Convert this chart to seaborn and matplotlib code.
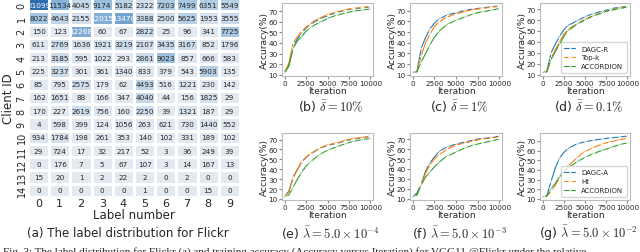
import numpy as np
import pandas as pd
import seaborn as sns
import matplotlib.pyplot as plt
from matplotlib.colors import LinearSegmentedColormap

# label distribution (client x label)
labels = list(range(10))
clients = list(range(15))
label_counts = [
    [21099, 11534, 4045, 9174, 5182, 2322, 7203, 7499, 6351, 5549],
    [8022, 4643, 2155, 12015, 13470, 3388, 2500, 5625, 1953, 3555],
    [150, 123, 12268, 60, 67, 2822, 25, 96, 341, 7725],
    [611, 2769, 1636, 1921, 3219, 2107, 3435, 3167, 852, 1796],
    [213, 3185, 595, 1022, 293, 2861, 9023, 857, 666, 583],
    [225, 3237, 301, 361, 1340, 833, 379, 543, 5903, 135],
    [85, 795, 2575, 179, 62, 4493, 516, 1221, 230, 142],
    [162, 1651, 88, 166, 347, 4040, 44, 156, 1825, 29],
    [170, 227, 2619, 756, 160, 2250, 39, 1321, 187, 29],
    [4, 598, 399, 124, 1056, 263, 621, 730, 1440, 552],
    [934, 1784, 198, 261, 353, 140, 102, 331, 189, 102],
    [29, 724, 17, 32, 217, 52, 3, 36, 249, 39],
    [0, 176, 7, 5, 67, 107, 3, 14, 167, 13],
    [15, 20, 1, 2, 22, 2, 0, 2, 0, 0],
    [0, 0, 0, 0, 0, 1, 0, 0, 15, 0],
]

# accuracy curves, sampled every 500 iterations
iterations = list(range(0, 10001, 500))

b_dagc = [12, 19, 37, 44, 49, 54, 57, 60, 62, 64, 65.5, 67, 68.5, 69.5, 70.5, 71.5, 72, 72.5, 73, 73.5, 74]
b_topk = [12, 21, 40, 46, 51, 55, 58, 61, 63, 65, 66.5, 68, 69, 70, 71, 72, 72.5, 73, 73.5, 74, 74.5]
b_acc = [12, 18, 35, 42, 46, 51, 54, 57, 59, 61, 63, 64.5, 66, 67, 68, 69, 70, 70.5, 71, 71.5, 72]

c_dagc = [12, 13, 35, 45, 53, 58, 62, 64, 66, 67, 68, 69, 70, 71, 71.5, 72, 72.5, 73, 73.5, 74, 74]
c_topk = [12, 13, 28, 40, 48, 55, 59, 62, 64, 65.5, 67, 68, 69, 70, 71, 71.5, 72, 72.5, 73, 73.5, 74]
c_acc = [12, 13, 22, 30, 38, 45, 50, 54, 57, 59, 61, 62.5, 64, 65.5, 67, 68, 69, 69.5, 70.5, 71, 72]

d_dagc = [12, 13, 30, 38, 45, 51, 55, 57, 59, 61, 63, 64.5, 66, 67, 68, 69, 70, 71, 71.5, 72, 72.5]
d_topk = [12, 13, 25, 33, 40, 47, 51, 54, 56, 58.5, 61, 62.5, 64, 65.5, 67, 68, 69, 70, 71, 71.5, 72]
d_acc = [12, 13, 24, 31, 38, 45, 50, 53, 56, 58, 60, 62, 64, 65, 66.5, 68, 69, 69.5, 70.5, 71, 72]

e_dagc = [12, 18, 32, 40, 47, 52, 55, 58, 61, 62.5, 64, 65, 66, 67, 68.5, 69.5, 70.5, 71, 72, 72.5, 73]
e_topk = [12, 17, 31, 40, 48, 52, 56, 58, 61, 63, 64.5, 65.5, 66.5, 67.5, 69, 70, 71, 71.5, 72, 72.5, 73.5]
e_acc = [12, 14, 22, 30, 37, 43, 47, 51, 54, 57, 59, 61, 62.5, 64, 65.5, 67, 68, 69, 70, 70.5, 71]

f_dagc = [12, 16, 25, 38, 46, 52, 57, 60, 62, 63.5, 65, 66, 67, 68, 69, 70, 70.5, 71, 71.5, 72, 73]
f_topk = [12, 14, 25, 36, 44, 50, 54, 57, 60, 62, 64, 65, 66, 67, 68, 69, 70, 70.5, 71, 71.5, 72]
f_acc = [12, 14, 24, 32, 37, 42, 46, 50, 53, 55, 57, 59, 61, 62.5, 64, 65, 66, 67, 68, 69, 70]

g_dagc = [12, 13, 28, 42, 52, 58, 62, 64.5, 66.5, 68, 69, 70, 70.5, 71.5, 72, 72.5, 73, 73.5, 74, 74.5, 75]
g_ht = [12, 13, 18, 24, 32, 38, 44, 48, 52, 56, 59, 61, 63, 65, 66.5, 68, 69, 70, 71, 72, 73]
g_acc = [12, 13, 20, 26, 33, 38, 42, 45, 48, 50.5, 53, 55, 57, 58.5, 60, 61.5, 63, 64.5, 66, 67, 68]

panels = [
    (r"(b) $\bar{\delta}=10\%$", ["DAGC-R", "Top-k", "ACCORDION"], [b_dagc, b_topk, b_acc], False),
    (r"(c) $\bar{\delta}=1\%$", ["DAGC-R", "Top-k", "ACCORDION"], [c_dagc, c_topk, c_acc], False),
    (r"(d) $\bar{\delta}=0.1\%$", ["DAGC-R", "Top-k", "ACCORDION"], [d_dagc, d_topk, d_acc], True),
    (r"(e) $\bar{\lambda}=5.0\times10^{-4}$", ["DAGC-A", "Ht", "ACCORDION"], [e_dagc, e_topk, e_acc], False),
    (r"(f) $\bar{\lambda}=5.0\times10^{-3}$", ["DAGC-A", "Ht", "ACCORDION"], [f_dagc, f_topk, f_acc], False),
    (r"(g) $\bar{\lambda}=5.0\times10^{-2}$", ["DAGC-A", "Ht", "ACCORDION"], [g_dagc, g_ht, g_acc], True),
]

sns.set_style("ticks", {"axes.edgecolor": "#bbbbbb"})
plt.rcParams["font.family"] = ["DejaVu Sans"]
plt.rcParams["mathtext.fontset"] = "cm"

fig = plt.figure(figsize=(6.4, 2.53), dpi=100)
W, H = 640, 253


def px_axes(x0, y0, x1, y1):
    return fig.add_axes([x0 / W, 1 - y1 / H, (x1 - x0) / W, (y1 - y0) / H])


# heatmap
ax = px_axes(28, -1, 240, 198)
df = pd.DataFrame(label_counts, index=clients, columns=labels)
cmap = LinearSegmentedColormap.from_list("bl", ["#e4e9f0", "#8fbade", "#2e6cae"])
sns.heatmap(df, ax=ax, cmap=cmap, annot=True, fmt="d", cbar=False,
            linewidths=1, linecolor="white", xticklabels=True, yticklabels=True,
            annot_kws={"fontsize": 5.2})
ax.tick_params(axis="x", length=0, labelsize=8, pad=1)
ax.tick_params(axis="y", length=0, labelsize=7, pad=1)
ax.set_yticklabels(clients, rotation=90, va="center")
ax.set_xlabel("Label number", fontsize=8.5, labelpad=0)
ax.set_ylabel("Client ID", fontsize=8.5, labelpad=1)
fig.text(128 / W, 1 - 234 / H, "(a) The label distribution for Flickr",
         ha="center", va="center", fontsize=8.5)

colors = ["#1f77b4", "#ff7f0e", "#2ca02c"]
markers = ["x", "+", "x"]
cols = [(282, 373), (410, 502), (540, 630)]
rows = [(4, 77), (134, 201)]
cap_y = [106, 233]

for i, (cap, names, series, show_leg) in enumerate(panels):
    r, c = divmod(i, 3)
    x0, x1 = cols[c]
    y0, y1 = rows[r]
    ax = px_axes(x0, y0, x1, y1)
    for name, vals, col, mk in zip(names, series, colors, markers):
        sns.lineplot(x=iterations, y=vals, ax=ax, color=col, lw=0.8,
                     marker=mk, markersize=2.5, markevery=2, mew=0.6, label=name)
    ax.set_xlim(-300, 10300)
    ax.set_xticks([0, 2500, 5000, 7500, 10000])
    ax.set_yticks([10, 20, 30, 40, 50, 60, 70])
    ax.tick_params(labelsize=5.2, length=2, pad=1, color="#888888")
    ax.set_xlabel("Iteration", fontsize=6.5, labelpad=0)
    ax.set_ylabel("Accuracy(%)", fontsize=6.5, labelpad=0)
    if show_leg:
        ax.legend(loc="lower right", fontsize=5, frameon=True, handlelength=1.6,
                  borderpad=0.5, labelspacing=0.4, edgecolor="#cccccc")
    else:
        ax.get_legend().remove()
    fig.text((x0 + x1) / 2 / W + 0.005, 1 - cap_y[r] / H, cap,
             ha="center", va="center", fontsize=9)

fig.text(0.005, 1 - 252.5 / H,
         "Fig. 3: The label distribution for Flickr (a) and training accuracy (Accuracy versus Iteration) for VGG11 @Flickr under the relative",
         ha="left", va="center", fontsize=8, family="Liberation Serif")

fig.savefig("out.png", dpi=100)
